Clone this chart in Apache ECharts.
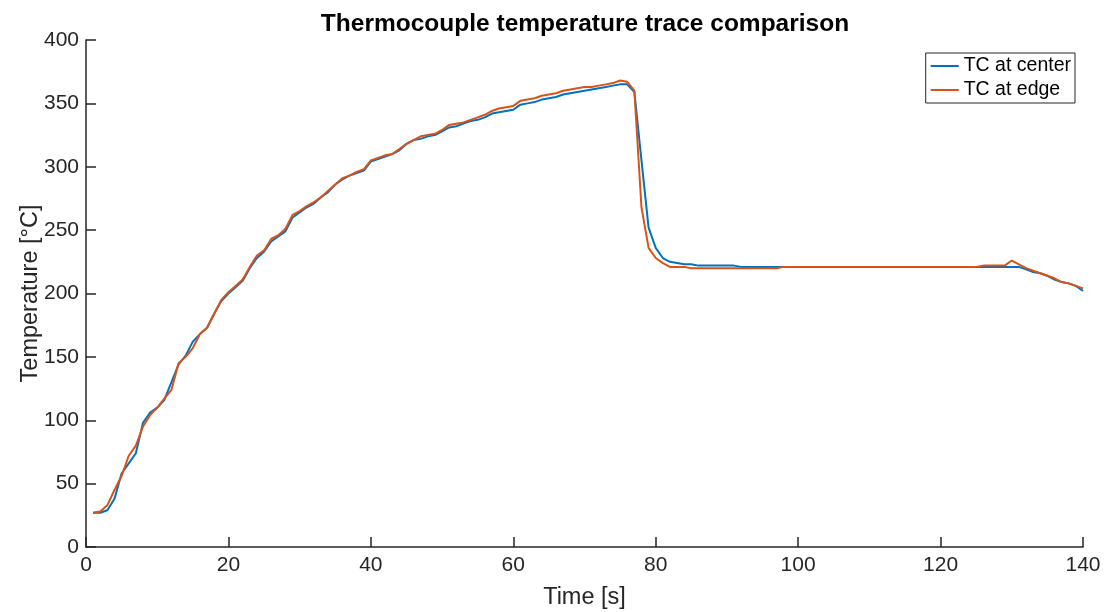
<!DOCTYPE html>
<html>
<head>
<meta charset="utf-8">
<script src="https://cdn.jsdelivr.net/npm/echarts@6/dist/echarts.min.js"></script>
<style>
html,body{margin:0;padding:0;background:#fff;}
#chart{width:1105px;height:612px;}
</style>
</head>
<body>
<div id="chart"></div>
<script>
// Sample times in seconds (1 s steps)
var timeStart = 1;
var seriesNames = ['TC at center', 'TC at edge'];
var xTicks = [0, 20, 40, 60, 80, 100, 120, 140];
var yTicks = [0, 50, 100, 150, 200, 250, 300, 350, 400];

var tcCenter = [
  27,27,29,38,58,66,74,98,106,110,
  116,130,144,151,162,168,173,184,194,200,
  205,210,220,228,233,241,245,249,260,264,
  268,271,276,280,286,290,293,295,297,304,
  306,308,310,313,318,321,322,324,325,328,
  331,332,334,336,337,339,342,343,344,345,
  349,350,351,353,354,355,357,358,359,360,
  361,362,363,364,365,365,359,305,252,236,
  228,225,224,223,223,222,222,222,222,222,
  222,221,221,221,221,221,221,221,221,221,
  221,221,221,221,221,221,221,221,221,221,
  221,221,221,221,221,221,221,221,221,221,
  221,221,221,221,221,221,221,221,221,221,
  221,219,217,216,214,211,209,208,206,202
];

var tcEdge = [
  27,28,33,45,56,72,80,95,104,110,
  117,124,145,150,157,168,173,184,195,201,
  206,211,221,230,234,243,246,251,262,265,
  269,272,276,281,286,291,293,296,298,305,
  307,309,310,314,318,321,324,325,326,329,
  333,334,335,337,339,341,344,346,347,348,
  352,353,354,356,357,358,360,361,362,363,
  363,364,365,366,368,367,360,268,236,228,
  224,221,221,221,220,220,220,220,220,220,
  220,220,220,220,220,220,220,221,221,221,
  221,221,221,221,221,221,221,221,221,221,
  221,221,221,221,221,221,221,221,221,221,
  221,221,221,221,221,222,222,222,222,226,
  223,220,218,216,214,212,209,208,206,204
];

function pairs(vals){
  return vals.map(function(v,i){ return [timeStart + i, v]; });
}

var axisColor = '#262626';
var font = '"Liberation Sans", Arial, Helvetica, sans-serif';

var chart = echarts.init(document.getElementById('chart'), null, {renderer:'canvas'});
chart.setOption({
  animation: false,
  backgroundColor: '#ffffff',
  title: {
    text: 'Thermocouple temperature trace comparison',
    left: 580, top: 7, textAlign: 'center',
    textStyle: {fontFamily: font, fontSize: 24.5, fontWeight: 'bold', color: '#000'}
  },
  legend: {
    orient: 'vertical', right: 30, top: 53,
    data: seriesNames,
    icon: 'rect', itemWidth: 28, itemHeight: 2, itemGap: 4,
    padding: [3, 4, 3, 5],
    borderColor: axisColor, borderWidth: 1, backgroundColor: '#fff',
    textStyle: {fontFamily: font, fontSize: 19.5, color: '#000'}
  },
  grid: {left: 86, right: 22, top: 40, bottom: 65, containLabel: false, outerBoundsMode: 'none'},
  xAxis: {
    type: 'value', min: 0, max: 140, interval: 20,
    name: 'Time [s]', nameLocation: 'middle', nameGap: 39, nameMoveOverlap: false,
    nameTextStyle: {fontFamily: font, fontSize: 23.5, color: axisColor},
    axisLine: {show: true, onZero: false, lineStyle: {color: axisColor, width: 1.5}},
    axisTick: {show: true, inside: true, length: 10, lineStyle: {color: axisColor, width: 1.5}},
    axisLabel: {fontFamily: font, fontSize: 21, color: axisColor, margin: 8},
    splitLine: {show: false}
  },
  yAxis: {
    type: 'value', min: 0, max: 400, interval: 50,
    name: 'Temperature [°C]', nameLocation: 'middle', nameGap: 43, nameRotate: 90, nameMoveOverlap: false,
    nameTextStyle: {fontFamily: font, fontSize: 23.5, color: axisColor},
    axisLine: {show: true, onZero: false, lineStyle: {color: axisColor, width: 1.5}},
    axisTick: {show: true, inside: true, length: 10, lineStyle: {color: axisColor, width: 1.5}},
    axisLabel: {fontFamily: font, fontSize: 21, color: axisColor, margin: 7},
    splitLine: {show: false}
  },
  series: [
    {name: seriesNames[0], type: 'line', data: pairs(tcCenter), showSymbol: false, symbol: 'none',
     lineStyle: {color: '#0072BD', width: 2}, itemStyle: {color: '#0072BD'}},
    {name: seriesNames[1], type: 'line', data: pairs(tcEdge), showSymbol: false, symbol: 'none',
     lineStyle: {color: '#D95319', width: 2}, itemStyle: {color: '#D95319'}}
  ]
});
</script>
</body>
</html>
